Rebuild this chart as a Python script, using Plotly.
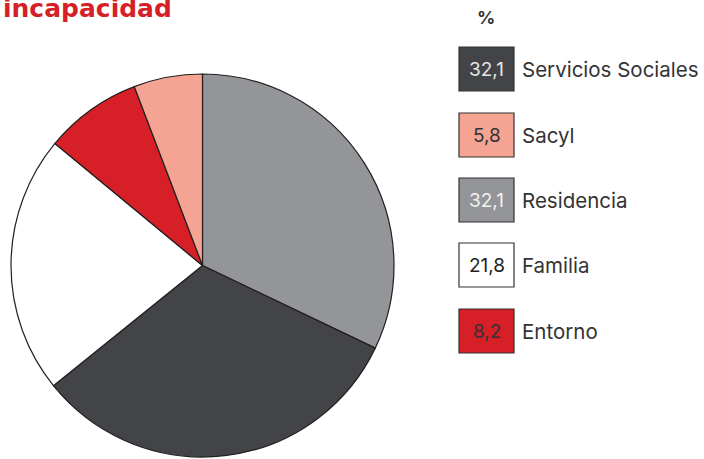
import plotly.graph_objects as go

# Data (clockwise from 12 o'clock in the pie)
pie_labels = ["Residencia", "Servicios Sociales", "Familia", "Entorno", "Sacyl"]
pie_values = [32.1, 32.1, 21.8, 8.2, 5.8]
pie_colors = ["#939598", "#434447", "#FFFFFF", "#D71F27", "#F5A493"]

# Legend order (top to bottom)
legend_labels = ["Servicios Sociales", "Sacyl", "Residencia", "Familia", "Entorno"]
legend_values = ["32,1", "5,8", "32,1", "21,8", "8,2"]
legend_colors = ["#434447", "#F5A493", "#939598", "#FFFFFF", "#D71F27"]
legend_text_colors = ["#E6E6E6", "#333333", "#F2F2F2", "#222222", "#333333"]

title_text = "incapacidad"

W, H = 704, 459
FONT = "Inter, Open Sans, sans-serif"

def px(x):
    return x / W

def py(y):
    return 1 - y / H

fig = go.Figure()
fig.add_trace(go.Pie(
    labels=pie_labels,
    values=pie_values,
    sort=False,
    direction="clockwise",
    rotation=0,
    marker=dict(colors=pie_colors, line=dict(color="#231F20", width=1.2)),
    textinfo="none",
    hoverinfo="label+value",
    showlegend=False,
    domain=dict(x=[px(11), px(394)], y=[py(457), py(74)]),
))

shapes = []
annotations = []

# Title (cut at top in the original)
annotations.append(dict(
    x=px(1), y=py(25), xref="paper", yref="paper", xanchor="left", yanchor="bottom",
    text="<b>" + title_text + "</b>", showarrow=False,
    font=dict(family="DejaVu Sans", size=25, color="#D71F27"),
))

# % header
annotations.append(dict(
    x=px(486), y=py(18), xref="paper", yref="paper", xanchor="center", yanchor="middle",
    text="<b>%</b>", showarrow=False,
    font=dict(family=FONT, size=18, color="#333333"),
))

box_top = [47, 113, 178, 243, 309]
for i, (lab, val, col, tcol) in enumerate(zip(legend_labels, legend_values, legend_colors, legend_text_colors)):
    y0 = box_top[i]
    y1 = y0 + 44
    shapes.append(dict(
        type="rect", xref="paper", yref="paper",
        x0=px(459), x1=px(514), y0=py(y1), y1=py(y0),
        fillcolor=col, line=dict(color="#333333", width=1.2),
    ))
    yc = (y0 + y1) / 2
    annotations.append(dict(
        x=px(486.5), y=py(yc), xref="paper", yref="paper", xanchor="center", yanchor="middle",
        text=val, showarrow=False,
        font=dict(family=FONT, size=19, color=tcol),
    ))
    annotations.append(dict(
        x=px(520), y=py(yc), xref="paper", yref="paper", xanchor="left", yanchor="middle",
        text=lab, showarrow=False,
        font=dict(family=FONT, size=20.5, color="#333333"),
    ))

fig.update_layout(
    width=W, height=H,
    margin=dict(l=0, r=0, t=0, b=0),
    paper_bgcolor="white", plot_bgcolor="white",
    shapes=shapes, annotations=annotations,
    showlegend=False,
)

fig.write_html(
    "out.html",
    config={"displayModeBar": False},
    post_script="document.body.style.margin='0';document.body.style.padding='0';",
)
